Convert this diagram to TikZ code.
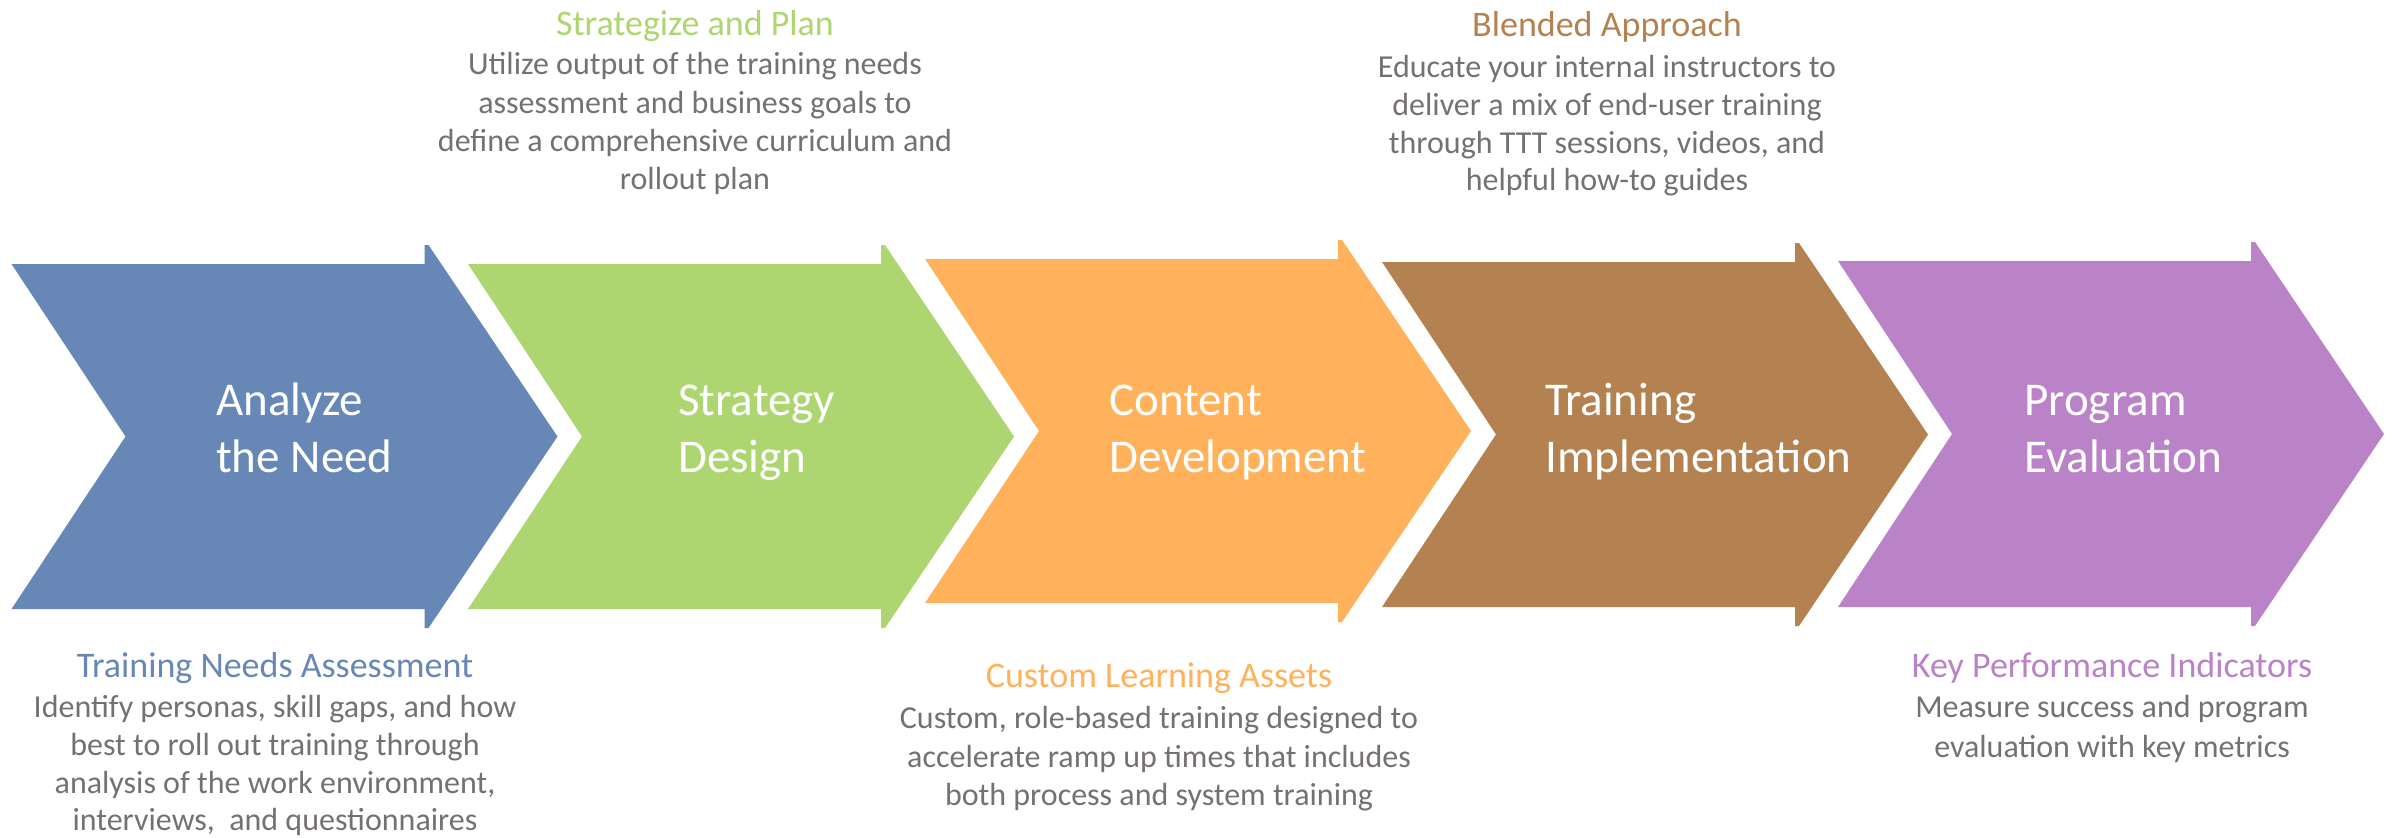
\documentclass[tikz,border=0pt]{standalone}
\usepackage{fontspec}
\setmainfont{Carlito}
\definecolor{cblue}{RGB}{103,135,183}
\definecolor{cgreen}{RGB}{173,214,113}
\definecolor{corange}{RGB}{255,178,91}
\definecolor{cbrown}{RGB}{180,130,80}
\definecolor{cpurple}{RGB}{187,131,199}
\definecolor{cgray}{RGB}{118,113,113}
\newcommand\chevshape[4]{%
  \fill[#4] (#1,#2) -- ({#1+413},#2) -- ({#1+413},{#2-19}) -- ({#1+417},{#2-19})
   -- ({#1+546},{(#2+#3)/2}) -- ({#1+417},{#3+19}) -- ({#1+413},{#3+19})
   -- ({#1+413},#3) -- (#1,#3) -- ({#1+114},{(#2+#3)/2}) -- cycle;}
\begin{document}
\begin{tikzpicture}[x=1pt,y=-1pt,
  chevtext/.style={text=white,font=\fontsize{47}{56}\selectfont,anchor=base west,inner sep=0pt},
  ttl/.style={font=\fontsize{36}{43}\selectfont,anchor=base,inner sep=0pt},
  desc/.style={text=cgray,font=\fontsize{32}{39}\selectfont,anchor=base,inner sep=0pt}]
\fill[white] (0,0) rectangle (2394,838);
\useasboundingbox (0,0) rectangle (2394,838);
% chevrons
\chevshape{11.5}{264}{609}{cblue}
\chevshape{468}{264}{609}{cgreen}
\chevshape{925}{259}{603}{corange}
\chevshape{1382}{262}{607}{cbrown}
\chevshape{1838}{261}{607}{cpurple}
% chevron labels
\node[chevtext] (c1a) at (216,415) {Analyze};
\node[chevtext] (c1b) at (216,472) {the Need};
\node[chevtext] (c2a) at (678,415) {Strategy};
\node[chevtext] (c2b) at (678,472) {Design};
\node[chevtext] (c3a) at (1109,415) {Content};
\node[chevtext] (c3b) at (1109,472) {Development};
\node[chevtext] (c4a) at (1545,415) {Training};
\node[chevtext] (c4b) at (1545,472) {Implementation};
\node[chevtext] (c5a) at (2024,415) {Program};
\node[chevtext] (c5b) at (2024,472) {Evaluation};
% top green
\node[ttl,text=cgreen] (t2) at (695,35) {Strategize and Plan};
\node[desc] (d2a) at (695,74) {Utilize output of the training needs};
\node[desc] (d2b) at (695,113) {assessment and business goals to};
\node[desc] (d2c) at (695,151) {define a comprehensive curriculum and};
\node[desc] (d2d) at (695,189) {rollout plan};
% top brown
\node[ttl,text=cbrown] (t4) at (1607,36) {Blended Approach};
\node[desc] (d4a) at (1607,77) {Educate your internal instructors to};
\node[desc] (d4b) at (1607,115) {deliver a mix of end-user training};
\node[desc] (d4c) at (1607,153) {through TTT sessions, videos, and};
\node[desc] (d4d) at (1607,190) {helpful how-to guides};
% bottom blue
\node[ttl,text=cblue] (t1) at (275,677) {Training Needs Assessment};
\node[desc] (d1a) at (275,717) {Identify personas, skill gaps, and how};
\node[desc] (d1b) at (275,755) {best to roll out training through};
\node[desc] (d1c) at (275,793) {analysis of the work environment,};
\node[desc] (d1d) at (275,830) {interviews,\ \ and questionnaires};
% bottom orange
\node[ttl,text=corange] (t3) at (1159,687) {Custom Learning Assets};
\node[desc] (d3a) at (1159,728) {Custom, role-based training designed to};
\node[desc] (d3b) at (1159,767) {accelerate ramp up times that includes};
\node[desc] (d3c) at (1159,805) {both process and system training};
% bottom purple
\node[ttl,text=cpurple] (t5) at (2112,677) {Key Performance Indicators};
\node[desc] (d5a) at (2112,717) {Measure success and program};
\node[desc] (d5b) at (2112,757) {evaluation with key metrics};
\end{tikzpicture}
\end{document}
